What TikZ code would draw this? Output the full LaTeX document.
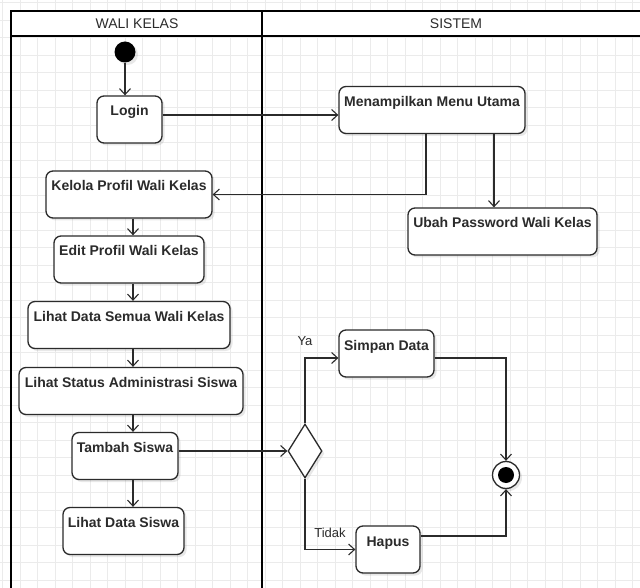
\documentclass[tikz,border=0pt]{standalone}
\usepackage{fontspec}
\setmainfont{Liberation Sans}
\usetikzlibrary{arrows.meta,shapes.geometric,shadows}

\definecolor{ink}{HTML}{2B2B2B}
\tikzset{
    act/.style={draw=ink, line width=1.3pt, rounded corners=7pt, fill=white,
        inner xsep=0pt, inner ysep=0pt, text height=20pt, text depth=27pt,
        minimum height=47pt, text=ink, font=\bfseries\fontsize{14}{16}\selectfont,
        drop shadow={shadow xshift=2.5pt, shadow yshift=-2.5pt, opacity=.18}},
    flow/.style={draw=ink, line width=1.1pt, -{Straight Barb[length=6pt,width=11pt]}},
    lane/.style={line width=1.8pt, black},
    gridline/.style={gray!16, line width=.5pt},
    guard/.style={text=ink, font=\fontsize{13}{15}\selectfont}
}

\begin{document}
\begin{tikzpicture}[x=1pt, y=-1pt]
    \useasboundingbox (0,0) rectangle (640,588);
    \fill[white] (0,0) rectangle (640,588);
    \begin{scope}[shift={(2.5,2.5)}]
        \draw[gridline, step=17.5pt] (-2.5,-2.5) grid (640,588);
    \end{scope}
    % swimlanes
    \fill[white] (11,11) rectangle (660,36);
    \draw[lane] (11,600) -- (11,11) -- (660,11);
    \draw[lane] (11,36) -- (660,36);
    \draw[lane] (262,11) -- (262,600);
    \node (laneA) at (137,24) [text=ink, font=\fontsize{14}{16}\selectfont] {WALI KELAS};
    \node (laneB) at (456,24) [text=ink, font=\fontsize{14}{16}\selectfont] {SISTEM};

    \node (start) at (125,52) [circle, fill=black, minimum size=21pt, inner sep=0pt,
        drop shadow={shadow xshift=2.5pt, shadow yshift=-2.5pt, opacity=.18}] {};
    \node (login) at (129.5,119.5) [act, minimum width=65pt] {Login};
    \node (menu) at (432,110) [act, minimum width=186pt] {Menampilkan Menu Utama};
    \node (kelola) at (129,194.5) [act, minimum width=166pt] {Kelola Profil Wali Kelas};
    \node (ubah) at (502.5,231.5) [act, minimum width=189pt] {Ubah Password Wali Kelas};
    \node (edit) at (129,259.5) [act, minimum width=150pt] {Edit Profil Wali Kelas};
    \node (semua) at (129,325) [act, minimum width=202pt] {Lihat Data Semua Wali Kelas};
    \node (status) at (131,391) [act, minimum width=224pt] {Lihat Status Administrasi Siswa};
    \node (tambah) at (125,456) [act, minimum width=106pt] {Tambah Siswa};
    \node (siswa) at (123.5,531) [act, minimum width=121pt] {Lihat Data Siswa};
    \node (simpan) at (386.5,353.5) [act, minimum width=95pt] {Simpan Data};
    \node (hapus) at (388,549.5) [act, minimum width=64pt] {Hapus};
    \node (cek) at (305,451) [diamond, draw=ink, line width=1.3pt, fill=white, inner sep=0pt,
        minimum width=34pt, minimum height=54pt,
        drop shadow={shadow xshift=2.5pt, shadow yshift=-2.5pt, opacity=.18}] {};
    \node (end) at (506,475) [circle, draw=ink, line width=1.3pt, fill=white, minimum size=27pt,
        inner sep=0pt, path picture={\fill[black] (path picture bounding box.center) circle (8pt);},
        drop shadow={shadow xshift=2.5pt, shadow yshift=-2.5pt, opacity=.18}] {};

    \draw[flow] (start) -- (start |- login.north);
    \draw[flow] ([yshift=4.5pt]login.east) -- ([yshift=4.5pt]login.east -| menu.west);
    \draw[flow] ([xshift=-6pt]menu.south) |- (kelola.east);
    \draw[flow] ([xshift=62pt]menu.south) -- ([xshift=62pt]menu.south |- ubah.north);
    \draw[flow] ([xshift=4pt]kelola.south) -- ([xshift=4pt]kelola.south |- edit.north);
    \draw[flow] ([xshift=4pt]edit.south) -- ([xshift=4pt]edit.south |- semua.north);
    \draw[flow] ([xshift=4pt]semua.south) -- ([xshift=4pt]semua.south |- status.north);
    \draw[flow] ([xshift=2pt]status.south) -- ([xshift=2pt]status.south |- tambah.north);
    \draw[flow] ([xshift=8pt]tambah.south) -- ([xshift=8pt]tambah.south |- siswa.north);
    \draw[flow] (tambah.east |- cek.west) -- (cek.west);
    \draw[flow] (cek.north) |- ([yshift=-4.5pt]simpan.west);
    \draw[flow] (cek.south) |- (hapus.west);
    \draw[flow] ([yshift=-4.5pt]simpan.east) -| (end.north);
    \draw[flow] ([yshift=13.5pt]hapus.east) -| (end.south);
    \node (ya) at (305,341) [guard] {Ya};
    \node (tidak) at (330,533) [guard] {Tidak};
\end{tikzpicture}
\end{document}
